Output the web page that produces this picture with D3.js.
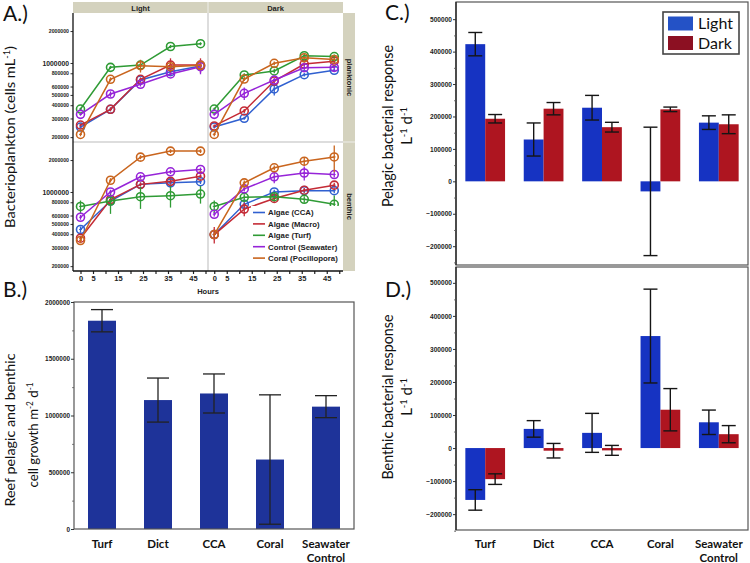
<!DOCTYPE html>
<html><head><meta charset="utf-8">
<script src="https://cdn.jsdelivr.net/npm/d3@7"></script>
<style>body{margin:0;background:#fff}svg{display:block}</style>
</head><body><svg id="chart" width="750" height="563"></svg>
<script>
// ---------- DATA ----------
const seriesNames = ["Algae (CCA)","Algae (Macro)","Algae (Turf)","Control (Seawater)","Coral (Pocillopora)"];
const hours = [0,12,24,36,48];
const hourTickLabels = [0,5,15,25,35,45];
const hourTicks = [0,5,10,15,20,25,30,35,40,45,50];
const logTicks = [200000,300000,400000,500000,600000,800000,1000000,2000000];
const facetCols = ["Light","Dark"];
const facetRows = ["planktonic","benthic"];
// rows follow seriesNames order
const lightPlanktonic = [
 [249000,366000,691000,828000,937000],
 [260000,366000,702000,957000,957000],
 [368000,910000,957000,1430000,1520000],
 [328000,510000,630000,788000,923000],
 [212000,702000,943000,923000,950000]];
const lightPlanktonicSE = [
 [8000,15000,30000,30000,40000],
 [8000,15000,30000,150000,150000],
 [10000,30000,40000,50000,50000],
 [10000,30000,30000,30000,140000],
 [8000,30000,130000,40000,40000]];
const darkPlanktonic = [
 [249000,301000,569000,776000,853000],
 [255000,353000,676000,978000,1040000],
 [368000,771000,841000,1170000,1150000],
 [328000,518000,691000,903000,910000],
 [212000,706000,993000,1120000,1080000]];
const darkPlanktonicSE = [
 [8000,10000,75000,30000,30000],
 [8000,15000,30000,40000,40000],
 [10000,30000,40000,50000,50000],
 [10000,70000,30000,60000,40000],
 [8000,30000,40000,40000,40000]];
const lightBenthic = [
 [443000,822000,1180000,1220000,1250000],
 [367000,850000,1180000,1260000,1410000],
 [731000,822000,903000,923000,957000],
 [578000,1000000,1390000,1550000,1630000],
 [349000,1290000,2130000,2430000,2430000]];
const lightBenthicSE = [
 [30000,40000,50000,50000,60000],
 [20000,90000,50000,60000,60000],
 [100000,200000,210000,210000,180000],
 [30000,50000,60000,70000,70000],
 [20000,60000,90000,100000,100000]];
const darkBenthic = [
 [397000,766000,1000000,1030000,1030000],
 [397000,690000,869000,1040000,1160000],
 [731000,891000,903000,853000,766000],
 [617000,1070000,1390000,1510000,1460000],
 [397000,1220000,1690000,1950000,2140000]];
const darkBenthicSE = [
 [20000,80000,50000,50000,50000],
 [70000,100000,60000,50000,60000],
 [100000,60000,60000,60000,160000],
 [30000,60000,180000,230000,90000],
 [20000,60000,90000,170000,600000]];

const categories = ["Turf","Dict","CCA","Coral","Seawater Control"];
const reefGrowth = [1835000,1136000,1194000,612000,1078000];
const reefGrowthSE = [98000,194000,172000,570000,97000];
const reefTicks = [0,500000,1000000,1500000,2000000];
const reefMinor = [250000,750000,1250000,1750000];

const treatments = ["Light","Dark"];
const pelagicLight = [423000,129000,227000,-31000,181000];
const pelagicLightSE = [36000,51000,38000,198000,21000];
const pelagicDark = [193000,224000,167000,222000,176000];
const pelagicDarkSE = [13000,19000,15000,7000,29000];
const benthicLight = [-157000,58000,46000,339000,78000];
const benthicLightSE = [31000,25000,59000,142000,37000];
const benthicDark = [-94000,-8000,-7000,116000,42000];
const benthicDarkSE = [16000,22000,15000,64000,26000];
const responseTicks = [-200000,-100000,0,100000,200000,300000,400000,500000];
const responseMinor = [-250000,-150000,-50000,50000,150000,250000,350000,450000];

// ---------- STYLE ----------
const seriesColors = ["#3060d0","#c42b36","#2f9b35","#9624d8","#c9651e"];
const stripFill = "#d4d2be";
const barBlue = "#1e3399";
const lightCol = "#1633c2", darkCol = "#ae1520";
const lightSw = "#2452c6", darkSw = "#8c1022";
const titleFont = "Lato, 'Open Sans', sans-serif";
const tickFont = "'Liberation Sans', Arial, sans-serif";

const svg = d3.select("#chart");
svg.append("rect").attr("width",750).attr("height",563).attr("fill","#fff");

function rotTitle(x, y, parts, size, len){
  const t = svg.append("text").attr("transform",`translate(${x},${y}) rotate(-90)`)
    .attr("text-anchor","middle").attr("font-family",titleFont).attr("font-size",size).attr("fill","#111");
  if (len) t.attr("textLength",len).attr("lengthAdjust","spacingAndGlyphs");
  parts.forEach(p=>{
    if (typeof p === "string") t.append("tspan").text(p);
    else t.append("tspan").attr("baseline-shift","super").attr("font-size",size*0.62).text(p.sup);
  });
  return t;
}
function panelLabel(x,y,txt){
  svg.append("text").attr("x",x).attr("y",y).attr("font-family",titleFont).attr("font-size",21).attr("fill","#111").text(txt);
}

// ---------- PANEL A ----------
const aX0 = 73, aXm = 208, aX1 = 343, aYt = 13, aYm = 142, aYb = 271;
const xLeft = d3.scaleLinear().domain([-3,51]).range([aX0,aXm]);
const xRight = d3.scaleLinear().domain([-2.5,51.5]).range([aXm,aX1]);
const yTop = d3.scaleLog().domain([180000,2960000]).range([aYm,aYt]);
const yBot = d3.scaleLog().domain([180000,2960000]).range([aYb,aYm]);
const facets = [
  {d:lightPlanktonic, se:lightPlanktonicSE, x:xLeft, y:yTop},
  {d:darkPlanktonic, se:darkPlanktonicSE, x:xRight, y:yTop},
  {d:lightBenthic, se:lightBenthicSE, x:xLeft, y:yBot},
  {d:darkBenthic, se:darkBenthicSE, x:xRight, y:yBot}];

// strips
svg.append("rect").attr("x",aX0).attr("y",2).attr("width",aX1-aX0).attr("height",aYt-2).attr("fill",stripFill);
svg.append("line").attr("x1",aXm).attr("x2",aXm).attr("y1",2).attr("y2",aYt).attr("stroke","#eeeeea").attr("stroke-width",1);
svg.append("rect").attr("x",aX1).attr("y",aYt).attr("width",12).attr("height",aYb-aYt).attr("fill",stripFill);
svg.append("line").attr("x1",aX1).attr("x2",aX1+12).attr("y1",aYm).attr("y2",aYm).attr("stroke","#eeeeea").attr("stroke-width",1);
facetCols.forEach((c,i)=>{
  svg.append("text").attr("x",i? (aXm+aX1)/2 : (aX0+aXm)/2).attr("y",10.5).attr("text-anchor","middle")
    .attr("font-family",tickFont).attr("font-weight","bold").attr("font-size",7.5).attr("fill","#222").text(c);
});
facetRows.forEach((r,i)=>{
  const cy = i? (aYm+aYb)/2 : (aYt+aYm)/2;
  svg.append("text").attr("transform",`translate(${aX1+3.5},${cy}) rotate(90)`).attr("text-anchor","middle")
    .attr("font-family",tickFont).attr("font-weight","bold").attr("font-size",7.5).attr("fill","#222").text(r);
});
// facet separators
svg.append("line").attr("x1",aXm).attr("x2",aXm).attr("y1",aYt).attr("y2",aYb).attr("stroke","#d2d2d2").attr("stroke-width",1.5);
svg.append("line").attr("x1",aX0).attr("x2",aX1).attr("y1",aYm).attr("y2",aYm).attr("stroke","#d2d2d2").attr("stroke-width",1.5);

// y axes (log)
[yTop,yBot].forEach(ys=>{
  const g = svg.append("g").attr("transform",`translate(${aX0},0)`)
    .call(d3.axisLeft(ys).tickValues(logTicks).tickFormat(d3.format("d")).tickSize(2.5).tickPadding(1.5));
  g.select(".domain").remove();
  g.selectAll("text").attr("font-family",tickFont).attr("font-weight","bold").attr("fill","#222")
    .attr("font-size",d=>d===1000000?6.8:5.2);
  g.selectAll("line").attr("stroke","#333");
});
svg.append("line").attr("x1",aX0).attr("x2",aX0).attr("y1",aYt).attr("y2",aYb).attr("stroke","#111").attr("stroke-width",1.3);
// x axes
[xLeft,xRight].forEach(xs=>{
  const g = svg.append("g").attr("transform",`translate(0,${aYb})`)
    .call(d3.axisBottom(xs).tickValues(hourTicks).tickFormat(d=>hourTickLabels.includes(d)?d:"").tickSize(3).tickPadding(2));
  g.select(".domain").remove();
  g.selectAll("text").attr("font-family",tickFont).attr("font-weight","bold").attr("font-size",7.5).attr("fill","#222");
  g.selectAll("line").attr("stroke","#222").attr("stroke-width",1.2);
});
svg.append("line").attr("x1",aX0).attr("x2",aX1).attr("y1",aYb).attr("y2",aYb).attr("stroke","#111").attr("stroke-width",1.3);
svg.append("text").attr("x",aXm).attr("y",294).attr("text-anchor","middle").attr("font-family",tickFont)
  .attr("font-weight","bold").attr("font-size",7.5).attr("fill","#222").text("Hours");

// series
facets.forEach(f=>{
  const g = svg.append("g");
  f.d.forEach((vals,si)=>{
    const col = seriesColors[si];
    const pts = vals.map((v,i)=>({t:hours[i], v, se:f.se[si][i]}));
    g.append("path").datum(pts).attr("fill","none").attr("stroke",col).attr("stroke-width",1.5)
      .attr("d",d3.line().x(p=>f.x(p.t)).y(p=>f.y(p.v)));
    pts.forEach(p=>{
      g.append("line").attr("x1",f.x(p.t)).attr("x2",f.x(p.t))
        .attr("y1",f.y(p.v+p.se)).attr("y2",f.y(Math.max(p.v-p.se,1e5))).attr("stroke",col).attr("stroke-width",1.3);
      g.append("circle").attr("cx",f.x(p.t)).attr("cy",f.y(p.v)).attr("r",4)
        .attr("fill","none").attr("stroke",col).attr("stroke-width",1.6);
      g.append("line").attr("x1",f.x(p.t)-1.5).attr("x2",f.x(p.t)+1.5).attr("y1",f.y(p.v)).attr("y2",f.y(p.v))
        .attr("stroke",col).attr("stroke-width",0.9);
    });
  });
});
// legend
{
  const lx = 251, ly = 206;
  svg.append("rect").attr("x",lx).attr("y",ly).attr("width",89).attr("height",58).attr("fill","#fff");
  seriesNames.forEach((n,i)=>{
    const y = 212.5 + i*11.4;
    svg.append("line").attr("x1",253).attr("x2",265).attr("y1",y).attr("y2",y).attr("stroke",seriesColors[i]).attr("stroke-width",1.6);
    svg.append("text").attr("x",268).attr("y",y+2.8).attr("font-family",tickFont).attr("font-weight","bold")
      .attr("font-size",7.8).attr("fill","#222").text(n);
  });
}
rotTitle(15, 137, ["Bacterioplankton (cells mL",{sup:"-1"},")"], 14, 182);
panelLabel(3, 21, "A.)");

// ---------- PANEL B ----------
const bL = 74, bR = 354, bT = 302, bB = 529;
const xB = d3.scaleBand().domain(categories).range([bL,bR]).paddingInner(0.5).paddingOuter(0.25);
const yB = d3.scaleLinear().domain([0,2000000]).range([bB,bT]);
svg.append("g").selectAll("rect").data(reefGrowth).join("rect")
  .attr("x",(d,i)=>xB(categories[i])).attr("width",xB.bandwidth())
  .attr("y",d=>yB(d)).attr("height",d=>yB(0)-yB(d)).attr("fill",barBlue);
reefGrowth.forEach((v,i)=>{
  const cx = xB(categories[i]) + xB.bandwidth()/2, se = reefGrowthSE[i], g = svg.append("g").attr("stroke","#222").attr("stroke-width",1.3);
  g.append("line").attr("x1",cx).attr("x2",cx).attr("y1",yB(v+se)).attr("y2",yB(v-se));
  g.append("line").attr("x1",cx-11).attr("x2",cx+11).attr("y1",yB(v+se)).attr("y2",yB(v+se));
  g.append("line").attr("x1",cx-11).attr("x2",cx+11).attr("y1",yB(v-se)).attr("y2",yB(v-se));
});
svg.append("rect").attr("x",bL).attr("y",bT).attr("width",bR-bL).attr("height",bB-bT).attr("fill","none").attr("stroke","#555").attr("stroke-width",1.2);
{
  const g = svg.append("g").attr("transform",`translate(${bL},0)`)
    .call(d3.axisLeft(yB).tickValues(reefTicks).tickFormat(d3.format("d")).tickSize(3).tickPadding(1));
  g.select(".domain").remove();
  g.selectAll("text").attr("font-family",tickFont).attr("font-weight","bold").attr("font-size",6.4).attr("fill","#222");
  g.selectAll("line").attr("stroke","#333");
  const gm = svg.append("g").attr("transform",`translate(${bL},0)`)
    .call(d3.axisLeft(yB).tickValues(reefMinor).tickFormat("").tickSize(1.8));
  gm.select(".domain").remove();
  gm.selectAll("line").attr("stroke","#666");
}
function catLabels(xs){
  categories.forEach((c,i)=>{
    const cx = xs(c) + xs.bandwidth()/2;
    const words = c.split(" ");
    words.forEach((w,j)=>{
      svg.append("text").attr("x",cx).attr("y",548+j*13.5).attr("text-anchor","middle").attr("font-family",titleFont)
        .attr("font-weight","bold").attr("font-size",11.5).attr("fill","#111").text(w);
    });
  });
}
catLabels(xB);
rotTitle(15, 430, ["Reef pelagic and benthic"], 14, 153);
rotTitle(38, 435, ["cell growth m",{sup:"-2"}," d",{sup:"-1"}], 14, 105);
panelLabel(3, 297, "B.)");

// ---------- PANELS C & D ----------
const cL = 456, cR = 748;
const xC = d3.scaleBand().domain(categories).range([cL,cR]).paddingInner(0.32).paddingOuter(0.16);
const xSub = d3.scaleBand().domain(treatments).range([0,xC.bandwidth()]);
function responsePanel(top, bottom, dom, light, lightSE, dark, darkSE){
  const y = d3.scaleLinear().domain(dom).range([bottom,top]);
  [[light,lightCol,"Light"],[dark,darkCol,"Dark"]].forEach(([vals,col,tr])=>{
    vals.forEach((v,i)=>{
      const x = xC(categories[i]) + xSub(tr);
      svg.append("rect").attr("x",x).attr("width",xSub.bandwidth()).attr("y",y(Math.max(v,0)))
        .attr("height",Math.abs(y(v)-y(0))).attr("fill",col);
    });
  });
  [[light,lightSE,"Light"],[dark,darkSE,"Dark"]].forEach(([vals,ses,tr])=>{
    vals.forEach((v,i)=>{
      const cx = xC(categories[i]) + xSub(tr) + xSub.bandwidth()/2, se = ses[i];
      const g = svg.append("g").attr("stroke","#151515").attr("stroke-width",1.4);
      g.append("line").attr("x1",cx).attr("x2",cx).attr("y1",y(v+se)).attr("y2",y(v-se));
      g.append("line").attr("x1",cx-7).attr("x2",cx+7).attr("y1",y(v+se)).attr("y2",y(v+se));
      g.append("line").attr("x1",cx-7).attr("x2",cx+7).attr("y1",y(v-se)).attr("y2",y(v-se));
    });
  });
  svg.append("rect").attr("x",cL).attr("y",top).attr("width",cR-cL).attr("height",bottom-top).attr("fill","none").attr("stroke","#555").attr("stroke-width",1.2);
  svg.append("line").attr("x1",cL).attr("x2",cL).attr("y1",top).attr("y2",bottom).attr("stroke","#222").attr("stroke-width",1.3);
  const g = svg.append("g").attr("transform",`translate(${cL},0)`)
    .call(d3.axisLeft(y).tickValues(responseTicks).tickFormat(d3.format("d")).tickSize(3).tickPadding(1));
  g.select(".domain").remove();
  g.selectAll("text").attr("font-family",tickFont).attr("font-weight","bold").attr("font-size",6.6).attr("fill","#222");
  g.selectAll("line").attr("stroke","#333");
  const gm = svg.append("g").attr("transform",`translate(${cL},0)`)
    .call(d3.axisLeft(y).tickValues(responseMinor).tickFormat("").tickSize(1.8));
  gm.select(".domain").remove();
  gm.selectAll("line").attr("stroke","#555");
  return y;
}
responsePanel(2, 265, [-258000,553000], pelagicLight, pelagicLightSE, pelagicDark, pelagicDarkSE);
responsePanel(267, 530, [-248000,548000], benthicLight, benthicLightSE, benthicDark, benthicDarkSE);
catLabels(xC);
// legend C
{
  svg.append("rect").attr("x",663).attr("y",12).attr("width",76).attr("height",42).attr("fill","#fff").attr("stroke","#444").attr("stroke-width",1.6);
  [[lightSw,"Light"],[darkSw,"Dark"]].forEach(([c,t],i)=>{
    svg.append("rect").attr("x",668).attr("y",16.5+i*19.5).attr("width",25).attr("height",14).attr("fill",c);
    svg.append("text").attr("x",698).attr("y",29+i*20).attr("font-family",titleFont).attr("font-size",16).attr("fill","#111").text(t);
  });
}
rotTitle(393, 126, ["Pelagic bacterial response"], 15, 162);
rotTitle(412, 126, ["L",{sup:"-1"}," d",{sup:"-1"}], 15);
rotTitle(393, 397, ["Benthic bacterial response"], 15, 165);
rotTitle(412, 397, ["L",{sup:"-1"}," d",{sup:"-1"}], 15);
panelLabel(385, 20, "C.)");
panelLabel(385, 297, "D.)");
</script></body></html>
